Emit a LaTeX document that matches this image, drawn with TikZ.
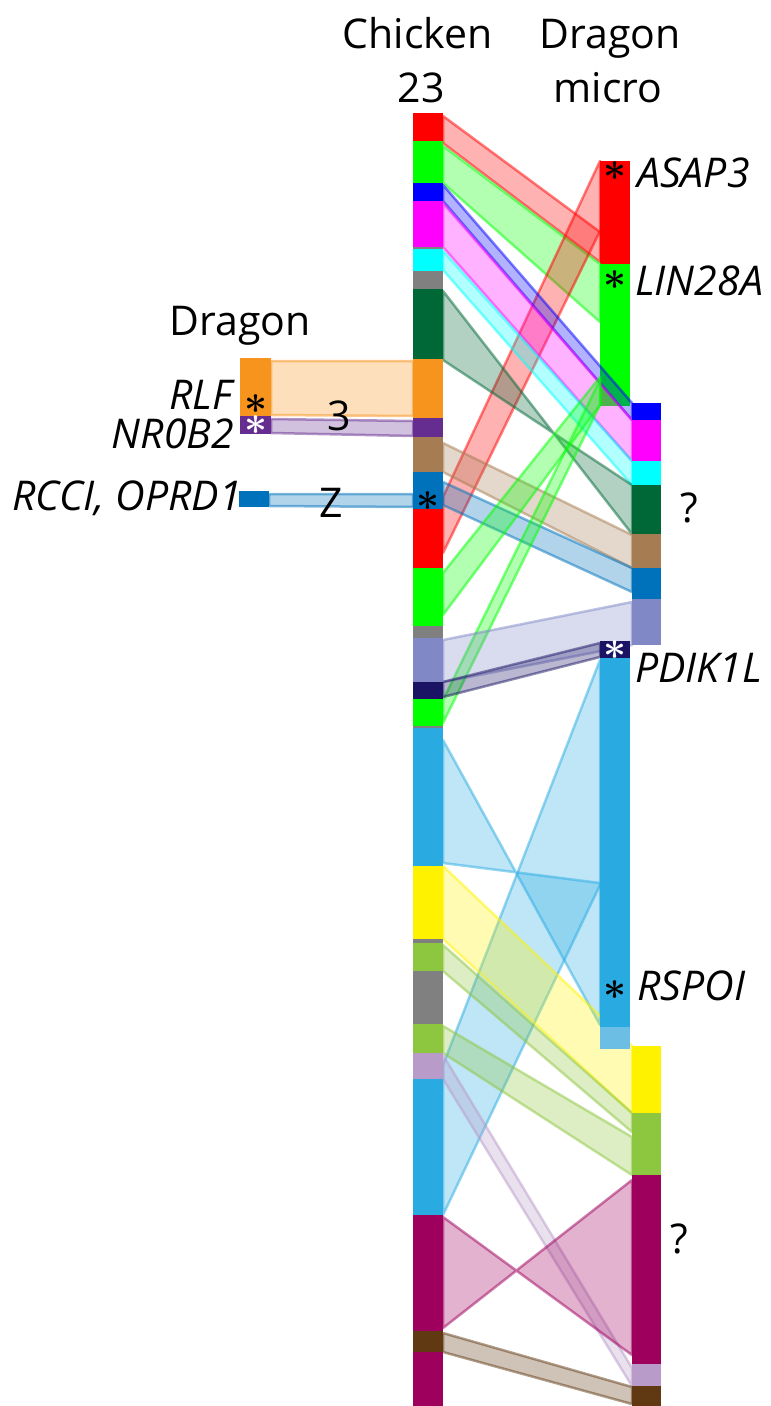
\documentclass[tikz,border=0pt]{standalone}
\usepackage{fontspec}
\setmainfont{Open Sans}
\usepackage{graphicx}
\definecolor{cRed}{HTML}{FF0000}
\definecolor{cGreen}{HTML}{00FF00}
\definecolor{cBlue}{HTML}{0000FF}
\definecolor{cMag}{HTML}{FF00FF}
\definecolor{cCyan}{HTML}{00FFFF}
\definecolor{cGray}{HTML}{808080}
\definecolor{cDkGreen}{HTML}{006837}
\definecolor{cOrange}{HTML}{F7941D}
\definecolor{cPurple}{HTML}{662D91}
\definecolor{cBrown}{HTML}{A67C52}
\definecolor{cBlueB}{HTML}{0072BC}
\definecolor{cLav}{HTML}{8088C6}
\definecolor{cNavy}{HTML}{1B1464}
\definecolor{cSky}{HTML}{29ABE2}
\definecolor{cSkyL}{HTML}{6CBEE4}
\definecolor{cYellow}{HTML}{FFF200}
\definecolor{cYGreen}{HTML}{8DC63F}
\definecolor{cLilac}{HTML}{B99BCA}
\definecolor{cCrimson}{HTML}{9E005D}
\definecolor{cDkBrown}{HTML}{603913}
\newcommand\ribb[7]{\draw[rib=#1] (#2,#3) -- (#5,#6) -- (#5,#7) -- (#2,#4) -- cycle;}
\newcommand\segm[5]{\fill[#1] (#2,#3) rectangle (#4,#5);}
\newcommand\chk[3]{\segm{#1}{413}{#2}{443}{#3}}
\newcommand\cola[3]{\segm{#1}{600}{#2}{630}{#3}}
\newcommand\colb[3]{\segm{#1}{632}{#2}{661}{#3}}
\newcommand\astr{\scalebox{4}{\boldmath$\ast$}}
\begin{document}
\begin{tikzpicture}[x=1pt,y=-1pt,
  rib/.style={fill=#1,fill opacity=0.3,draw=#1,draw opacity=0.5,line width=2.5pt,line join=round},
  lab/.style={inner sep=0pt,font=\fontsize{41}{41}\selectfont},
  ilab/.style={inner sep=0pt,font=\fontsize{41}{41}\selectfont\itshape},
  star/.style={inner sep=0pt,text=#1}]
\useasboundingbox (0,0) rectangle (771,1406);
% dragon micro column 1 (upper part, under ribbons)
\cola{cRed}{161}{264}
\cola{cGreen}{264}{406}
% ribbons chicken -> dragon micro
\ribb{cRed}{443}{116}{143}{600}{232}{262}
\ribb{cGreen}{443}{146}{183}{600}{264}{322}
\ribb{cRed}{443}{497}{553}{600}{161}{231}
\ribb{cBlue}{443}{185}{201}{632}{403}{420}
\ribb{cMag}{443}{203}{247}{632}{420}{461}
\ribb{cCyan}{443}{251}{270}{632}{461}{485}
\ribb{cDkGreen}{443}{291}{360}{632}{534}{485}
\ribb{cBrown}{443}{443}{472}{632}{535}{568}
\ribb{cBlueB}{443}{482}{505}{632}{568}{592}
\ribb{cGreen}{443}{573}{615}{600}{377}{405}
\ribb{cGreen}{443}{700}{723}{600}{380}{405}
\ribb{cLav}{443}{640}{682}{632}{602}{645}
\ribb{cNavy}{443}{682}{697}{600}{643}{657}
\ribb{cSky}{443}{740}{863}{600}{1025}{883}
\ribb{cSky}{443}{1065}{1215}{600}{660}{885}
\ribb{cYellow}{443}{866}{939}{632}{1046}{1113}
\ribb{cYGreen}{443}{945}{971}{632}{1113}{1132}
\ribb{cYGreen}{443}{1026}{1053}{632}{1137}{1175}
\ribb{cLilac}{443}{1055}{1079}{632}{1368}{1386}
\ribb{cCrimson}{443}{1217}{1328}{632}{1355}{1180}
\ribb{cDkBrown}{443}{1333}{1352}{632}{1387}{1404}
% ribbons dragon -> chicken
\ribb{cOrange}{271}{361}{415}{413}{361}{416}
\ribb{cPurple}{271}{419}{433}{413}{421}{436}
\ribb{cBlueB}{269}{494}{506}{413}{494}{507}
% chicken 23 column
\chk{cRed}{113}{141}
\chk{cGreen}{141}{183}
\chk{cBlue}{183}{201}
\chk{cMag}{201}{247}
\chk{cGray}{247}{249}
\chk{cCyan}{249}{271}
\chk{cGray}{271}{289}
\chk{cDkGreen}{289}{359}
\chk{cOrange}{359}{418}
\chk{cPurple}{418}{437}
\chk{cBrown}{437}{472}
\chk{cBlueB}{472}{509}
\chk{cRed}{509}{568}
\chk{cGreen}{568}{626}
\chk{cGray}{626}{638}
\chk{cLav}{638}{682}
\chk{cNavy}{682}{699}
\chk{cGreen}{699}{726}
\chk{cGray}{726}{728}
\chk{cSky}{728}{866}
\chk{cYellow}{866}{939}
\chk{cGray}{939}{943}
\chk{cYGreen}{943}{971}
\chk{cGray}{971}{1024}
\chk{cYGreen}{1024}{1053}
\chk{cLilac}{1053}{1079}
\chk{cSky}{1079}{1215}
\chk{cCrimson}{1215}{1331}
\chk{cDkBrown}{1331}{1352}
\chk{cCrimson}{1352}{1406}
% dragon micro column 1 (lower part)
\cola{cNavy}{641}{658}
\cola{cSky}{658}{1027}
\cola{cSkyL}{1027}{1049}
% dragon micro column 2
\colb{cBlue}{403}{420}
\colb{cMag}{420}{461}
\colb{cCyan}{461}{485}
\colb{cDkGreen}{485}{534}
\colb{cBrown}{534}{568}
\colb{cBlueB}{568}{599}
\colb{cLav}{599}{645}
\colb{cYellow}{1046}{1113}
\colb{cYGreen}{1113}{1175}
\colb{cCrimson}{1175}{1364}
\colb{cLilac}{1364}{1386}
\colb{cDkBrown}{1386}{1406}
% dragon column
\segm{cOrange}{240}{358}{271}{416}
\segm{cPurple}{240}{416}{271}{434}
\segm{cBlueB}{239}{491}{269}{507}
% asterisks
\node[star=black] (s1) at (615,171) {\astr};
\node[star=black] (s2) at (615,280) {\astr};
\node[star=white] (s3) at (615,650) {\astr};
\node[star=black] (s4) at (615,990) {\astr};
\node[star=black] (s5) at (256,404) {\astr};
\node[star=white] (s6) at (256,425) {\astr};
\node[star=black] (s7) at (428,501) {\astr};
% labels
\node[lab,anchor=base] (t1) at (417.5,48) {Chicken};
\node[lab,anchor=base] (t2) at (421,102) {23};
\node[lab,anchor=base] (t3) at (610,48) {Dragon};
\node[lab,anchor=base] (t4) at (608,102) {micro};
\node[lab,anchor=base] (t5) at (240,335) {Dragon};
\node[lab,anchor=base west] (t6) at (327,430) {3};
\node[lab,anchor=base west] (t7) at (319,517) {Z};
\node[lab,anchor=base west] (q1) at (680,522) {?};
\node[lab,anchor=base west] (q2) at (670,1253) {?};
\node[ilab,anchor=base west] (g1) at (637,187) {ASAP3};
\node[ilab,anchor=base west] (g2) at (635,295) {LIN28A};
\node[ilab,anchor=base west] (g3) at (635,682) {PDIK1L};
\node[ilab,anchor=base west] (g4) at (637,1000) {RSPOI};
\node[ilab,anchor=base east] (g5) at (232,409) {RLF};
\node[ilab,anchor=base east] (g6) at (234,448) {NR0B2};
\node[ilab,anchor=base east] (g7) at (242,510) {RCCI, OPRD1};
\end{tikzpicture}
\end{document}
